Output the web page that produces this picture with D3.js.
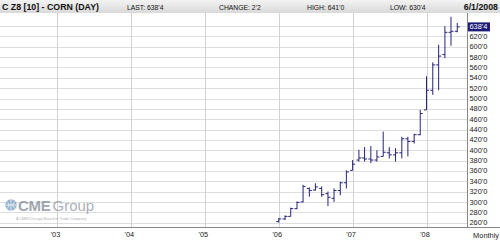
<!DOCTYPE html>
<html><head><meta charset="utf-8">
<script src="https://cdn.jsdelivr.net/npm/d3@7"></script>
<style>
html,body{margin:0;padding:0;background:#fff;}
svg{display:block;font-family:"Liberation Sans",Arial,sans-serif;}
</style></head>
<body>
<svg id="c" width="500" height="241"></svg>
<script>
// ---- data (monthly OHLC, Dec 2008 corn, cents/bu) ----
const months = ["2006-01","2006-02","2006-03","2006-04","2006-05","2006-06","2006-07","2006-08","2006-09","2006-10","2006-11","2006-12",
"2007-01","2007-02","2007-03","2007-04","2007-05","2007-06","2007-07","2007-08","2007-09","2007-10","2007-11","2007-12",
"2008-01","2008-02","2008-03","2008-04","2008-05","2008-06"];
const opens  = [262,267,272,287,300,326,323,326,316,307,322,337, 361,381,385,383,381,388,395,391,395,422,417,430, 478,516,565,585,628,630];
const highs  = [269,274,289,301,333,328,336,330,320,326,339,361, 381,401,406,408,400,436,406,404,426,426,432,478, 543,570,604,640,658,646];
const lows   = [260,265,272,286,299,310,322,310,292,300,313,326, 361,378,378,375,378,388,384,378,384,388,413,429, 478,507,516,578,602,628];
const closes = [267,272,287,299,330,322,329,314,309,322,337,358, 373,385,383,381,387,396,391,395,422,417,430,471, 516,565,582,628,630,638.5];
const yearTicks = ["2003","2004","2005","2006","2007","2008"];
const yearLabels = ["'03","'04","'05","'06","'07","'08"];
const priceTicks = [260,280,300,320,340,360,380,400,420,440,460,480,500,520,540,560,580,600,620,640];
const lastPrice = 638.5;
const header = {title:"C Z8 [10] - CORN (DAY)", last:"LAST: 638'4", change:"CHANGE: 2'2", high:"HIGH: 641'0", low:"LOW: 630'4", date:"6/1/2008"};

const fmt = v => Math.floor(v) + "'" + Math.round((v - Math.floor(v)) * 8);

const svg = d3.select("#c");
const W = 500, H = 241;
const plotL = 0, plotR = 467, plotT = 13, plotB = 227;

const parse = d3.timeParse("%Y-%m");
const x = d3.scaleTime().domain([new Date(2003,0,1), new Date(2008,0,1)]).range([57, 426.5]);
const y = d3.scaleLinear().domain([260, 600]).range([222.6, 46.8]);

// header band
const defs = svg.append("defs");
const g = defs.append("linearGradient").attr("id","hg").attr("x1",0).attr("x2",0).attr("y1",0).attr("y2",1);
g.append("stop").attr("offset","0").attr("stop-color","#f3f3f3");
g.append("stop").attr("offset","1").attr("stop-color","#d9d9d9");
svg.append("rect").attr("x",0).attr("y",0).attr("width",W).attr("height",plotT).attr("fill","url(#hg)");

const ht = svg.append("g").attr("fill","#111");
ht.append("text").attr("x",2).attr("y",10).attr("font-size",8.8).attr("font-weight","bold").text(header.title);
ht.append("text").attr("x",127).attr("y",9.5).attr("font-size",6.8).text(header.last);
ht.append("text").attr("x",219).attr("y",9.5).attr("font-size",6.8).text(header.change);
ht.append("text").attr("x",307).attr("y",9.5).attr("font-size",6.8).text(header.high);
ht.append("text").attr("x",390).attr("y",9.5).attr("font-size",6.8).text(header.low);
ht.append("text").attr("x",498).attr("y",10).attr("text-anchor","end").attr("font-size",8.8).attr("font-weight","bold").text(header.date);

// grid
const grid = svg.append("g").attr("shape-rendering","crispEdges");
grid.selectAll("line.h").data(priceTicks).join("line")
  .attr("x1",plotL).attr("x2",plotR).attr("y1",d=>Math.round(y(d))+0.5).attr("y2",d=>Math.round(y(d))+0.5)
  .attr("stroke","#dedede");
grid.selectAll("line.v").data(yearTicks).join("line")
  .attr("x1",d=>Math.round(x(new Date(+d,0,1)))+0.5).attr("x2",d=>Math.round(x(new Date(+d,0,1)))+0.5)
  .attr("y1",plotT).attr("y2",plotB).attr("stroke","#d2d2d2");

// CME logo
const logo = svg.append("g").attr("opacity",0.72);
logo.append("circle").attr("cx",11).attr("cy",205).attr("r",5.8).attr("fill","#6f98c0");
logo.append("path").attr("d","M5.2,205 H16.8 M11,199.2 V210.8 M7,201.5 Q11,205 7,208.5 M15,201.5 Q11,205 15,208.5").attr("stroke","#fff").attr("stroke-width",0.7).attr("fill","none");
logo.append("text").attr("x",18).attr("y",210.8).attr("font-size",15).attr("font-weight","bold").attr("fill","#7b8492").attr("letter-spacing",-0.3).text("CME");
logo.append("text").attr("x",52.5).attr("y",210.8).attr("font-size",15).attr("fill","#8a929e").attr("letter-spacing",0).text("Group");
logo.append("text").attr("x",16).attr("y",219.5).attr("font-size",3.8).attr("fill","#8a929e").text("A CME/Chicago Board of Trade Company");

// axes lines
svg.append("line").attr("x1",plotR+0.5).attr("x2",plotR+0.5).attr("y1",plotT).attr("y2",plotB).attr("stroke","#888").attr("shape-rendering","crispEdges");
svg.append("line").attr("x1",0).attr("x2",W).attr("y1",plotB+0.5).attr("y2",plotB+0.5).attr("stroke","#888").attr("shape-rendering","crispEdges");

// bars
const data = months.map((m,i)=>({d:parse(m),o:opens[i],h:highs[i],l:lows[i],c:closes[i]}));
const bars = svg.append("g").attr("stroke","#24247a").attr("stroke-width",1);
bars.selectAll("line.hl").data(data).join("line")
  .attr("x1",d=>x(d.d)).attr("x2",d=>x(d.d)).attr("y1",d=>y(d.h)).attr("y2",d=>y(d.l));
bars.selectAll("line.o").data(data).join("line")
  .attr("x1",d=>x(d.d)-2.5).attr("x2",d=>x(d.d)).attr("y1",d=>y(d.o)).attr("y2",d=>y(d.o));
bars.selectAll("line.c").data(data).join("line")
  .attr("x1",d=>x(d.d)).attr("x2",d=>x(d.d)+2.5).attr("y1",d=>y(d.c)).attr("y2",d=>y(d.c));

// y labels
const yl = svg.append("g").attr("font-size",7.4).attr("fill","#222");
yl.selectAll("text").data(priceTicks.filter(v=>v<630)).join("text")
  .attr("x",469.5).attr("y",d=>y(d)+2.6).text(d=>fmt(d));
svg.append("rect").attr("x",468).attr("y",y(lastPrice)-4.5).attr("width",22).attr("height",9).attr("fill","#1c1c78");
svg.append("text").attr("x",469.5).attr("y",y(lastPrice)+2.6).attr("font-size",7.4).attr("fill","#fff").text(fmt(lastPrice));

// x labels
svg.append("g").attr("font-size",7.4).attr("fill","#222").selectAll("text").data(yearTicks).join("text")
  .attr("x",(d)=>x(new Date(+d,0,1))-1.5).attr("y",237).attr("text-anchor","middle").text((d,i)=>yearLabels[i]);
svg.append("text").attr("x",499).attr("y",237.5).attr("text-anchor","end").attr("font-size",7.4).attr("fill","#222").text("Monthly");
</script>
</body></html>
